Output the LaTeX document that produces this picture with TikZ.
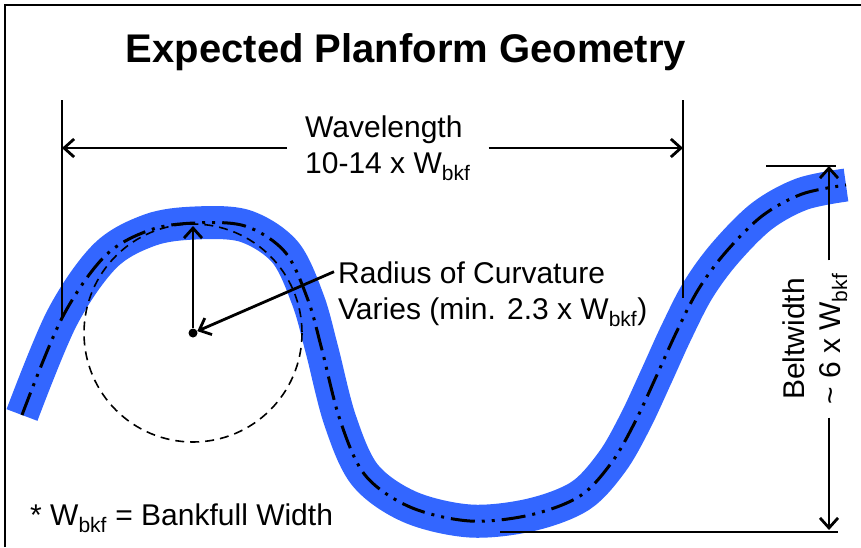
\documentclass[tikz,border=0pt]{standalone}
\usepackage{fontspec}
\setmainfont{Liberation Sans}
\usepackage{xcolor}
\definecolor{rvblue}{RGB}{51,102,255}
\usetikzlibrary{arrows.meta, positioning, calc}

\begin{document}
\begin{tikzpicture}[x=1pt, y=-1pt,
    dimline/.style={black, line width=2.8pt},
    dimarr/.style={dimline, -{Straight Barb[length=10pt, width=18pt]}},
    lbl/.style={font=\fontsize{30}{36}\selectfont, align=left},
    centerline/.style={black, line width=3pt,
        dash pattern=on 24pt off 7pt on 3pt off 7pt on 3pt off 7pt}]

\useasboundingbox (0,0) rectangle (861,547);

% === Frame ===
\draw[line width=2.8pt] (5,547) -- (5,5) -- (861,5);

% === Title ===
\node[font=\fontsize{40}{48}\selectfont\bfseries] (title) at (406,52) {Expected Planform Geometry};

% === River channel ===
\draw[centerline, preaction={draw=rvblue, line width=33pt, solid}]
    plot[smooth, tension=0.55] coordinates {
    (22,415) (62,318) (105,256) (150,230) (195,223) (245,226) (285,252)
    (308,300) (322,350) (340,420) (365,475) (410,507) (470,521) (530,515)
    (580,496) (612,462) (635,422) (656,377) (676,333) (698,290) (725,253)
    (762,216) (802,194) (846,185)};

% === Radius of curvature ===
\node[circle, fill=black, inner sep=0pt, minimum size=9pt] (ctr) at (193,333) {};
\draw[black, line width=1.6pt, dash pattern=on 9pt off 6pt] (ctr.center) circle (109);
\coordinate (rtop) at (193,226);
\draw[dimarr] (ctr) -- (rtop);
\node[lbl, anchor=west, inner sep=4pt] (rtext) at (334,294)
    {Radius of Curvature\\Varies (min. 2.3 x W\textsubscript{bkf})};
\draw[dimarr] (rtext.172) -- (ctr);

% === Wavelength ===
\coordinate (wlTop) at (62,100);
\coordinate (wlBot) at (62,318);
\coordinate (wrTop) at (683,100);
\coordinate (wrBot) at (683,298);
\draw[dimline] (wlTop) -- (wlBot);
\draw[dimline] (wrTop) -- (wrBot);
\node[lbl, anchor=west, inner xsep=18pt] (wave) at (287,148)
    {Wavelength\\10-14 x W\textsubscript{bkf}};
\draw[dimarr] (wave.west) -- (wave.west -| wlTop);
\draw[dimarr] (wave.east) -- (wave.east -| wrTop);

% === Beltwidth ===
\coordinate (btl) at (766,166);
\coordinate (btop) at (829,166);
\coordinate (btr) at (836,166);
\coordinate (bbl) at (500,532);
\coordinate (bbot) at (829,530);
\coordinate (bbr) at (838,532);
\draw[dimline] (btl) -- (btr);
\draw[dimline] (bbl) -- (bbr);
\node[font=\fontsize{30}{36}\selectfont, align=center, rotate=90, inner xsep=13pt] (belt) at (815,339)
    {Beltwidth\\\textasciitilde{} 6 x W\textsubscript{bkf}};
\draw[dimarr] (belt.east -| btop) -- (btop);
\draw[dimarr] (belt.west -| bbot) -- (bbot);

% === Footnote ===
\node[lbl, anchor=west, inner sep=2pt] (note) at (28,518) {* W\textsubscript{bkf} = Bankfull Width};

\end{tikzpicture}
\end{document}
